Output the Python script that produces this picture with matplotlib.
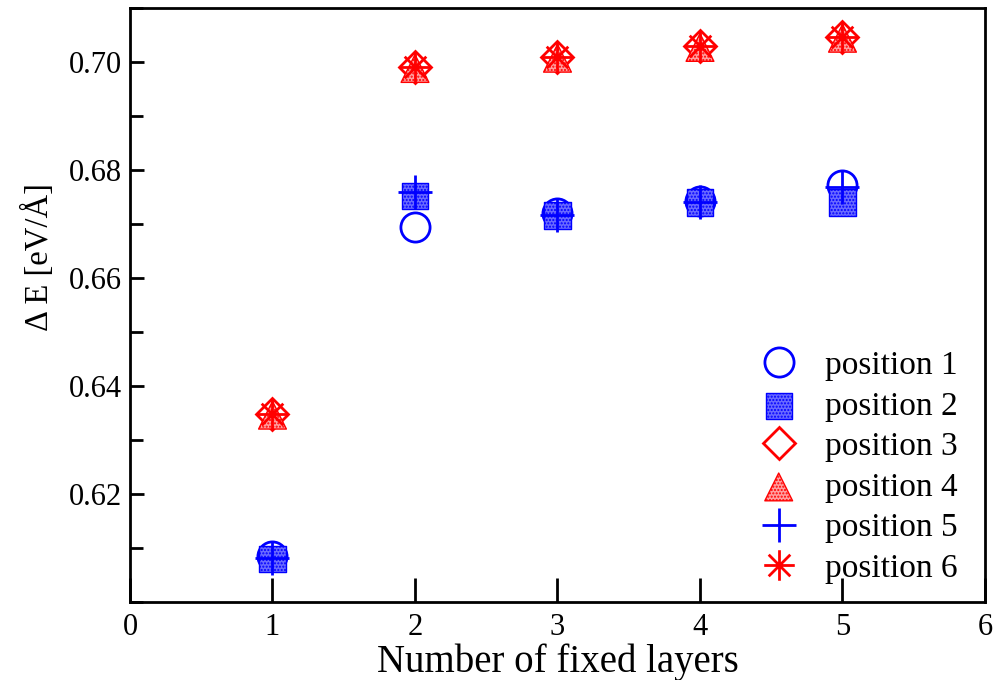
import matplotlib
matplotlib.use("Agg")
import matplotlib.pyplot as plt
from matplotlib.path import Path
from matplotlib.ticker import MultipleLocator
import numpy as np

plt.rcParams['font.family'] = ['Liberation Serif', 'DejaVu Serif']
plt.rcParams['hatch.linewidth'] = 1.0

layers = [1, 2, 3, 4, 5]
pos1 = [0.6085, 0.6694, 0.6720, 0.6743, 0.6772]
pos2 = [0.6080, 0.6752, 0.6716, 0.6740, 0.6740]
pos3 = [0.6348, 0.6990, 0.7009, 0.7029, 0.7046]
pos4 = [0.6346, 0.6988, 0.7007, 0.7027, 0.7044]
pos5 = [0.6081, 0.6760, 0.6717, 0.6741, 0.6768]
pos6 = [0.6348, 0.6990, 0.7009, 0.7029, 0.7046]
labels = ["position 1", "position 2", "position 3", "position 4", "position 5", "position 6"]
yticks = [0.62, 0.64, 0.66, 0.68, 0.70]
ytick_labels = ["0.62", "0.64", "0.66", "0.68", "0.70"]

# asterisk marker (8 arms)
verts, codes = [], []
for ang in [0, 45, 90, 135]:
    a = np.deg2rad(ang)
    verts += [(-np.cos(a), -np.sin(a)), (np.cos(a), np.sin(a))]
    codes += [Path.MOVETO, Path.LINETO]
aster = Path(verts, codes)

fig = plt.figure(figsize=(10.03, 6.8), dpi=100)
ax = fig.add_axes([130/1003, 1-602/680, (985-130)/1003, (602-8)/680])

ax.plot(layers, pos1, ls='none', marker='o', ms=21, mfc='none', mec='blue', mew=2, label=labels[0], zorder=3)
ax.scatter(layers, pos2, marker='s', s=19**2, facecolor='#6a6aff', edgecolor='blue', linewidths=1.0, hatch='.....', label=labels[1], zorder=3)
ax.plot(layers, pos3, ls='none', marker='D', ms=16, mfc='none', mec='red', mew=2, label=labels[2], zorder=3)
ax.scatter(layers, pos4, marker='^', s=20**2, facecolor='#ffa0a0', edgecolor='red', linewidths=1.0, hatch='.....', label=labels[3], zorder=3)
ax.plot(layers, pos5, ls='none', marker='+', ms=24, mec='blue', mew=2, label=labels[4], zorder=4)
ax.plot(layers, pos6, ls='none', marker=aster, ms=22, mec='red', mfc='none', mew=2, label=labels[5], zorder=4)

ax.set_xlim(0, 6)
ax.set_ylim(0.60, 0.71)
ax.xaxis.set_major_locator(MultipleLocator(1))
ax.yaxis.set_minor_locator(MultipleLocator(0.01))
ax.set_yticks(yticks)
ax.set_yticklabels(ytick_labels)

ax.tick_params(axis='both', which='both', direction='in', top=False, right=False, labelsize=22, width=2)
ax.tick_params(axis='x', which='major', length=17, pad=8)
ax.tick_params(axis='y', which='major', length=10, pad=6)
ax.tick_params(axis='y', which='minor', length=9)
ax.tick_params(axis='x', which='minor', bottom=False)
for s in ax.spines.values():
    s.set_linewidth(2)

ax.set_xlabel("Number of fixed layers", fontsize=28, labelpad=1)
ax.set_ylabel("\u0394 E [eV/\u00c5]", fontsize=23.5)
ax.yaxis.set_label_coords(-0.088, 0.58)

leg = ax.legend(loc='lower right', frameon=False, fontsize=24, handletextpad=0.8,
                labelspacing=0.3, borderaxespad=0.15, handlelength=1.2,
                bbox_to_anchor=(0.99, 0.0))

fig.savefig("out.png", dpi=100)
